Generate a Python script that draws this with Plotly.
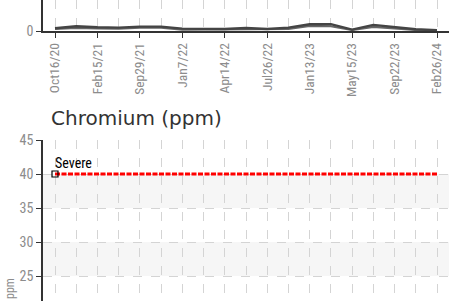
import plotly.graph_objects as go

# ---- data ----
sample_index = list(range(19))
label_positions = [0, 2, 4, 6, 8, 10, 12, 14, 16, 18]
date_labels = ["Oct16/20", "Feb15/21", "Sep29/21", "Jan7/22", "Apr14/22",
               "Jul26/22", "Jan13/23", "May15/23", "Sep22/23", "Feb26/24"]
prev_series_a = [0.8, 1.4, 1.1, 1.0, 1.3, 1.3, 0.7, 0.6, 0.6, 0.9,
                 0.6, 1.0, 2.0, 2.0, 0.4, 1.8, 1.1, 0.5, 0.2]
prev_series_b = [0.6, 0.9, 0.8, 0.7, 1.0, 1.0, 0.4, 0.4, 0.4, 0.6,
                 0.4, 0.6, 1.5, 1.4, 0.3, 1.2, 0.8, 0.3, 0.2]
severe_limit = 40
abnormal_limit = 20
chromium_ticks = [25, 30, 35, 40, 45]
band_ranges = [(35, 40), (25, 30)]

W, H = 458, 301
NARROW = "Roboto Condensed, DejaVu Sans Condensed, sans-serif"
GRAY = "#8c8c8c"
AXIS = "#333333"
GRID = "#d4d4d4"

x_dom = [43 / W, 449 / W]
x_range = [-12 / 21.22, 18 + 12 / 21.22]
minor_vals = [i for i in sample_index if i not in label_positions]

fig = go.Figure()

# previous chart lines
fig.add_trace(go.Scatter(x=sample_index, y=prev_series_b, mode="lines",
                         line=dict(color="#666666", width=2.2), xaxis="x", yaxis="y",
                         showlegend=False, hoverinfo="skip"))
fig.add_trace(go.Scatter(x=sample_index, y=prev_series_a, mode="lines",
                         line=dict(color="#444444", width=2.4), xaxis="x", yaxis="y",
                         showlegend=False, hoverinfo="skip"))

# severe limit line
fig.add_trace(go.Scatter(x=sample_index, y=[severe_limit] * len(sample_index), mode="lines",
                         line=dict(color="#ff0000", width=3, dash="5px,1.5px"),
                         xaxis="x2", yaxis="y2", showlegend=False, hoverinfo="skip"))
fig.add_trace(go.Scatter(x=[sample_index[0]], y=[severe_limit], mode="markers",
                         marker=dict(symbol="square-open", size=6, color="black",
                                     line=dict(width=1.2, color="black")),
                         xaxis="x2", yaxis="y2", showlegend=False, hoverinfo="skip"))

shapes = []
for lo, hi in band_ranges:
    shapes.append(dict(type="rect", xref="x2 domain", yref="y2", x0=0, x1=1, y0=lo, y1=hi,
                       fillcolor="#f6f6f6", line=dict(width=0), layer="below"))

grid_common = dict(showgrid=True, gridcolor=GRID, griddash="dash", gridwidth=1)

fig.update_layout(
    width=W, height=H,
    margin=dict(l=0, r=0, t=0, b=0, autoexpand=False),
    paper_bgcolor="white", plot_bgcolor="rgba(0,0,0,0)",
    shapes=shapes,
    xaxis=dict(domain=x_dom, range=x_range, anchor="y",
               tickmode="array", tickvals=label_positions, ticktext=date_labels,
               tickangle=-90, ticks="outside", ticklen=5, tickcolor=AXIS, tickwidth=1,
               showline=True, linecolor=AXIS, linewidth=1.5, zeroline=False,
               tickfont=dict(family=NARROW, size=13.5, color=GRAY),
               minor=dict(tickvals=minor_vals, showgrid=True, gridcolor=GRID,
                          griddash="dash", ticks=""),
               **grid_common),
    yaxis=dict(domain=[(H - 31) / H, 1], range=[0, 31 / 3.4], anchor="x",
               tickmode="array", tickvals=[0], ticks="outside", ticklen=5, tickcolor=AXIS,
               showline=True, linecolor=AXIS, linewidth=1.5, showgrid=False, zeroline=False,
               tickfont=dict(family=NARROW, size=14, color=GRAY)),
    xaxis2=dict(domain=x_dom, range=x_range, anchor="y2", matches="x",
                tickmode="array", tickvals=label_positions, showticklabels=False,
                ticks="", showline=False, zeroline=False,
                minor=dict(tickvals=minor_vals, showgrid=True, gridcolor=GRID,
                           griddash="dash", ticks=""),
                **grid_common),
    yaxis2=dict(domain=[0, (H - 140) / H], range=[45 - 161 / 6.8, 45], anchor="x2",
                tickmode="array", tickvals=chromium_ticks, ticks="outside", ticklen=5,
                tickcolor=AXIS, showline=True, linecolor=AXIS, linewidth=1.5,
                zeroline=False, tickfont=dict(family=NARROW, size=14, color=GRAY),
                **grid_common),
    annotations=[
        dict(text="Chromium (ppm)", xref="paper", yref="paper", x=49 / W, y=(H - 118) / H,
             xanchor="left", yanchor="middle", showarrow=False,
             font=dict(family="DejaVu Sans, Verdana, sans-serif", size=20, color="#333333")),
        dict(text="Severe", xref="x2", yref="y2", x=sample_index[0], y=severe_limit,
             xanchor="left", yanchor="bottom", xshift=-2, yshift=1, showarrow=False,
             font=dict(family=NARROW, size=14, color="black")),
        dict(text="Abnormal", xref="x2", yref="y2", x=sample_index[0], y=abnormal_limit,
             xanchor="left", yanchor="bottom", xshift=-2, yshift=1, showarrow=False,
             font=dict(family=NARROW, size=14, color="black")),
        dict(text="ppm", xref="paper", yref="paper", x=10 / W, y=(H - 289) / H,
             xanchor="center", yanchor="middle", textangle=-90, showarrow=False,
             font=dict(family=NARROW, size=12, color=GRAY)),
        dict(text="10", xref="paper", yref="paper", x=43 / W, y=1, xanchor="right",
             yanchor="bottom", xshift=-7, yshift=-4, showarrow=False,
             font=dict(family=NARROW, size=14, color=GRAY)),
    ],
)

fig.write_html("out.html", config={"displayModeBar": False},
               post_script="document.body.style.margin='0';document.body.style.overflow='hidden';")
